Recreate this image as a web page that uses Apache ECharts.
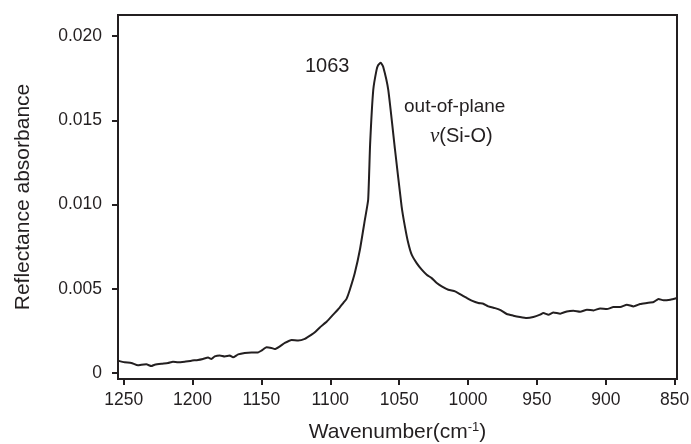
<!DOCTYPE html>
<html>
<head>
<meta charset="utf-8">
<script src="https://cdn.jsdelivr.net/npm/echarts@6/dist/echarts.min.js"></script>
<style>
html,body{margin:0;padding:0;background:#fff;}
#chart{width:691px;height:444px;}
</style>
</head>
<body>
<div id="chart"></div>
<script>
// Wavenumber (cm^-1), descending
const wavenumber = [
  1254.1, 1249.3, 1244.4, 1239.6, 1237.1, 1233.5, 1229.9, 1227.5, 1222.6, 1217.8,
  1214.2, 1210.5, 1205.7, 1200.8, 1196.0, 1192.4, 1188.7, 1186.3, 1183.9, 1180.2,
  1176.6, 1173.0, 1170.6, 1166.9, 1162.1, 1157.2, 1152.4, 1150.0, 1146.3, 1142.7,
  1140.3, 1136.6, 1133.0, 1128.1, 1123.3, 1118.5, 1113.6, 1111.2, 1107.6, 1102.5,
  1097.9, 1093.5, 1090.6, 1088.2, 1085.8, 1082.2, 1078.5, 1074.9, 1072.5, 1071.1,
  1068.8, 1066.4, 1065.2, 1063.4, 1061.6, 1057.9, 1053.0, 1048.2, 1045.8, 1043.4,
  1040.9, 1037.3, 1033.6, 1030.0, 1026.4, 1022.7, 1019.1, 1014.3, 1009.4, 1005.8,
  1000.9, 997.3, 992.5, 988.9, 985.3, 980.4, 976.8, 971.9, 967.1, 962.3,
  957.4, 952.6, 947.7, 945.3, 941.6, 938.0, 933.1, 928.3, 923.5, 918.6,
  913.7, 908.9, 904.1, 899.2, 894.4, 889.5, 884.7, 879.9, 875.0, 870.1,
  865.3, 861.7, 858.1, 853.2, 848.3
];
// Reflectance absorbance
const absorbance = [
  0.00073, 0.00063, 0.00059, 0.00045, 0.00049, 0.00051, 0.00041, 0.00049, 0.00055, 0.00059,
  0.00067, 0.00063, 0.00067, 0.00073, 0.00077, 0.00083, 0.00091, 0.00083, 0.00098, 0.00104,
  0.00098, 0.00103, 0.00093, 0.00110, 0.00119, 0.00122, 0.00122, 0.00132, 0.00152, 0.00148,
  0.00142, 0.00158, 0.00178, 0.00196, 0.00192, 0.00202, 0.00227, 0.00241, 0.00270, 0.00305,
  0.00346, 0.00385, 0.00415, 0.00440, 0.00494, 0.00593, 0.00731, 0.00909, 0.01028, 0.01354,
  0.01680, 0.01799, 0.01828, 0.01842, 0.01818, 0.01680, 0.01325, 0.00988, 0.00869, 0.00771,
  0.00702, 0.00652, 0.00613, 0.00583, 0.00563, 0.00534, 0.00514, 0.00494, 0.00484, 0.00468,
  0.00445, 0.00429, 0.00415, 0.00411, 0.00395, 0.00385, 0.00375, 0.00350, 0.00340, 0.00332,
  0.00326, 0.00332, 0.00346, 0.00356, 0.00346, 0.00359, 0.00352, 0.00365, 0.00369, 0.00363,
  0.00375, 0.00371, 0.00383, 0.00379, 0.00391, 0.00391, 0.00405, 0.00395, 0.00409, 0.00415,
  0.00421, 0.00439, 0.00431, 0.00435, 0.00445
];
const xTicks = [1250, 1200, 1150, 1100, 1050, 1000, 950, 900, 850];
const yTicks = [0, 0.005, 0.010, 0.015, 0.020];

const ink = '#231f20';
const font = 'Liberation Sans, Arial, sans-serif';
const chart = echarts.init(document.getElementById('chart'), null, {renderer: 'canvas', width: 691, height: 444});
chart.setOption({
  animation: false,
  backgroundColor: '#fff',
  textStyle: {fontFamily: font, color: ink},
  grid: {
    left: 118, right: 14, top: 15, bottom: 65, containLabel: false, outerBoundsMode: 'none',
    show: true, borderColor: ink, borderWidth: 2, backgroundColor: 'transparent'
  },
  xAxis: {
    type: 'value', inverse: true, min: 848.3, max: 1254.1,
    name: 'Wavenumber(cm{sup|-1})', nameLocation: 'middle', nameGap: 42,
    nameTextStyle: {
      fontSize: 21, color: ink, fontFamily: font,
      rich: {sup: {fontSize: 13, color: ink, padding: [0, 0, 10, 0], fontFamily: font}}
    },
    axisLine: {show: true, onZero: false, lineStyle: {color: ink, width: 2}},
    axisTick: {show: true, inside: false, length: 6, lineStyle: {color: ink, width: 2}, customValues: xTicks},
    axisLabel: {fontSize: 17.5, color: ink, margin: 12, hideOverlap: false, customValues: xTicks, formatter: v => String(Math.round(v))},
    splitLine: {show: false}
  },
  yAxis: {
    type: 'value', min: -0.00036, max: 0.02125,
    name: 'Reflectance absorbance', nameLocation: 'middle', nameGap: 84, nameRotate: 90,
    nameTextStyle: {fontSize: 21, color: ink, fontFamily: font},
    axisLine: {show: true, onZero: false, lineStyle: {color: ink, width: 2}},
    axisTick: {show: true, inside: false, length: 6, lineStyle: {color: ink, width: 2}, customValues: yTicks},
    axisLabel: {
      fontSize: 17.5, color: ink, margin: 16, customValues: yTicks,
      formatter: v => (Math.abs(v) < 1e-9 ? '0' : v.toFixed(3))
    },
    splitLine: {show: false}
  },
  graphic: [
    {type: 'text', left: 305, top: 56, style: {text: '1063', fontSize: 20, fill: ink, fontFamily: font}},
    {type: 'text', left: 404, top: 97, style: {text: 'out-of-plane', fontSize: 19, fill: ink, fontFamily: font}},
    {type: 'text', left: 430, top: 126, style: {
      text: '{nu|ν}(Si-O)', fontSize: 20, fill: ink, fontFamily: font,
      rich: {nu: {fontSize: 21, fontStyle: 'italic', fontFamily: 'Liberation Serif, Times New Roman, serif', fill: ink}}
    }}
  ],
  series: [{
    type: 'line',
    data: wavenumber.map((w, i) => [w, absorbance[i]]),
    showSymbol: false,
    smooth: 0.15,
    lineStyle: {color: ink, width: 2},
    itemStyle: {color: ink}
  }]
});
</script>
</body>
</html>
